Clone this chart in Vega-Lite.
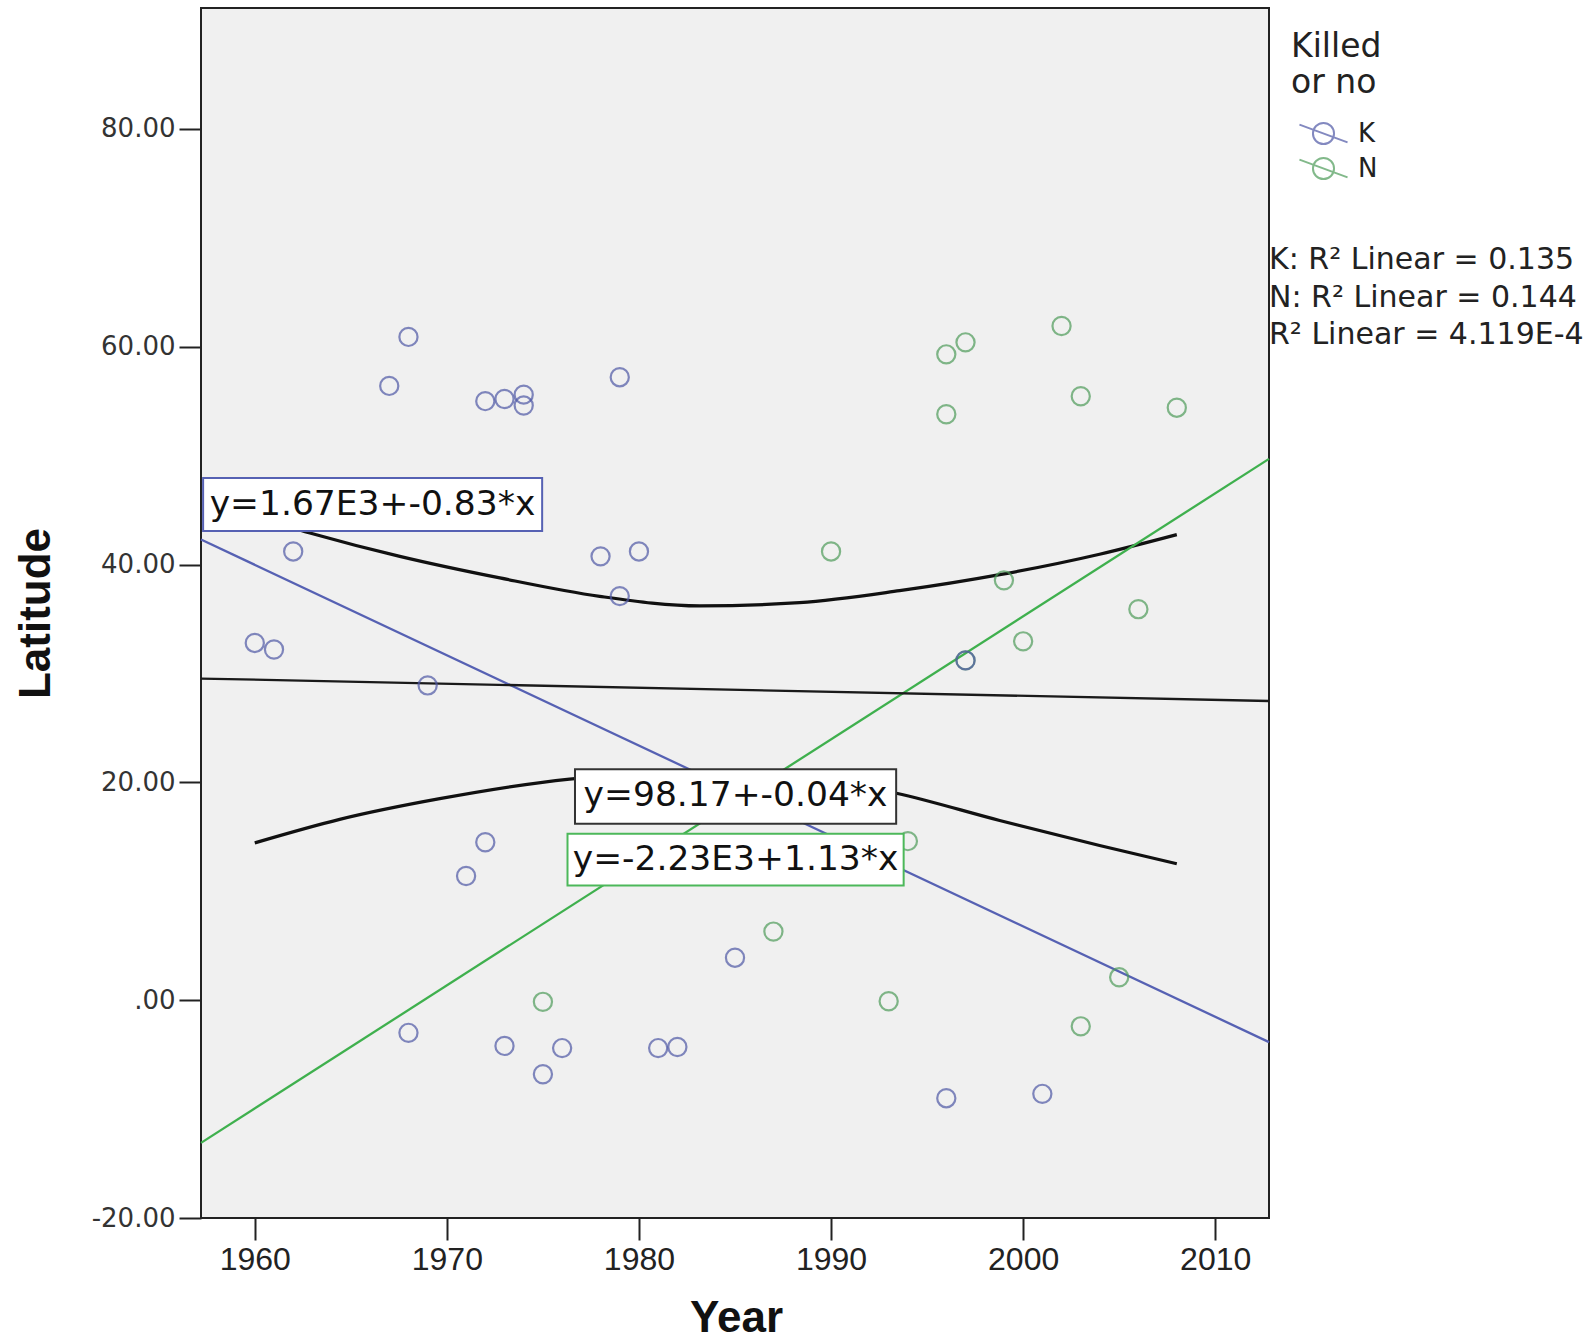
{
"$schema":"https://vega.github.io/schema/vega-lite/v6.json",
"width":1068,"height":1210,
"autosize":{"type":"none"},
"padding":{"left":201,"top":8,"right":327,"bottom":123},
"background":"#ffffff",
"config":{
 "view":{"fill":"#f0f0f0","stroke":"#222222","strokeWidth":2},
 "axis":{"grid":false,"domain":false,"ticks":true,"tickColor":"#222222","tickWidth":2,"tickSize":22,"labelFlush":false}
},
"datasets":{
 "points":[
  {"Year":1996,"Latitude":59.3,"Killed":"N"},
  {"Year":1997,"Latitude":60.4,"Killed":"N"},
  {"Year":1996,"Latitude":53.8,"Killed":"N"},
  {"Year":2002,"Latitude":61.9,"Killed":"N"},
  {"Year":2003,"Latitude":55.45,"Killed":"N"},
  {"Year":2008,"Latitude":54.4,"Killed":"N"},
  {"Year":1990,"Latitude":41.2,"Killed":"N"},
  {"Year":1999,"Latitude":38.55,"Killed":"N"},
  {"Year":2006,"Latitude":35.9,"Killed":"N"},
  {"Year":2000,"Latitude":32.95,"Killed":"N"},
  {"Year":1997,"Latitude":31.2,"Killed":"N"},
  {"Year":1994,"Latitude":14.6,"Killed":"N"},
  {"Year":1987,"Latitude":6.3,"Killed":"N"},
  {"Year":1975,"Latitude":-0.15,"Killed":"N"},
  {"Year":1993,"Latitude":-0.1,"Killed":"N"},
  {"Year":2005,"Latitude":2.1,"Killed":"N"},
  {"Year":2003,"Latitude":-2.4,"Killed":"N"},
  {"Year":1960,"Latitude":32.8,"Killed":"K"},
  {"Year":1961,"Latitude":32.2,"Killed":"K"},
  {"Year":1962,"Latitude":41.2,"Killed":"K"},
  {"Year":1967,"Latitude":56.4,"Killed":"K"},
  {"Year":1968,"Latitude":60.9,"Killed":"K"},
  {"Year":1969,"Latitude":28.9,"Killed":"K"},
  {"Year":1972,"Latitude":55.0,"Killed":"K"},
  {"Year":1973,"Latitude":55.2,"Killed":"K"},
  {"Year":1974,"Latitude":55.6,"Killed":"K"},
  {"Year":1974,"Latitude":54.6,"Killed":"K"},
  {"Year":1979,"Latitude":57.2,"Killed":"K"},
  {"Year":1978,"Latitude":40.75,"Killed":"K"},
  {"Year":1980,"Latitude":41.2,"Killed":"K"},
  {"Year":1979,"Latitude":37.1,"Killed":"K"},
  {"Year":1997,"Latitude":31.2,"Killed":"K"},
  {"Year":1971,"Latitude":11.4,"Killed":"K"},
  {"Year":1972,"Latitude":14.5,"Killed":"K"},
  {"Year":1968,"Latitude":-3.0,"Killed":"K"},
  {"Year":1973,"Latitude":-4.2,"Killed":"K"},
  {"Year":1975,"Latitude":-6.8,"Killed":"K"},
  {"Year":1976,"Latitude":-4.4,"Killed":"K"},
  {"Year":1981,"Latitude":-4.4,"Killed":"K"},
  {"Year":1982,"Latitude":-4.3,"Killed":"K"},
  {"Year":1985,"Latitude":3.9,"Killed":"K"},
  {"Year":1996,"Latitude":-9.0,"Killed":"K"},
  {"Year":2001,"Latitude":-8.6,"Killed":"K"}
 ],
 "fits":[
  {"Year":1957.2,"Latitude":42.3,"Series":"K"},
  {"Year":2012.8,"Latitude":-3.85,"Series":"K"},
  {"Year":1957.2,"Latitude":-13.1,"Series":"N"},
  {"Year":2012.8,"Latitude":49.7,"Series":"N"},
  {"Year":1957.2,"Latitude":29.53,"Series":"Total"},
  {"Year":2012.8,"Latitude":27.47,"Series":"Total"}
 ],
 "ci":[
  {"Year":1960,"Latitude":44.4,"Bound":"upper"},
  {"Year":1962.87,"Latitude":42.9,"Bound":"upper"},
  {"Year":1967.55,"Latitude":40.75,"Bound":"upper"},
  {"Year":1972.76,"Latitude":38.77,"Bound":"upper"},
  {"Year":1977.96,"Latitude":37.08,"Bound":"upper"},
  {"Year":1983.17,"Latitude":36.2,"Bound":"upper"},
  {"Year":1988.36,"Latitude":36.5,"Bound":"upper"},
  {"Year":1993.57,"Latitude":37.6,"Bound":"upper"},
  {"Year":1998.78,"Latitude":39.07,"Bound":"upper"},
  {"Year":2003.98,"Latitude":40.95,"Bound":"upper"},
  {"Year":2008,"Latitude":42.75,"Bound":"upper"},
  {"Year":1960,"Latitude":14.44,"Bound":"lower"},
  {"Year":1964.42,"Latitude":16.6,"Bound":"lower"},
  {"Year":1969.63,"Latitude":18.5,"Bound":"lower"},
  {"Year":1976.39,"Latitude":20.3,"Bound":"lower"},
  {"Year":1980,"Latitude":20.8,"Bound":"lower"},
  {"Year":1984,"Latitude":21.0,"Bound":"lower"},
  {"Year":1988,"Latitude":20.7,"Bound":"lower"},
  {"Year":1993.4,"Latitude":19.0,"Bound":"lower"},
  {"Year":1998.78,"Latitude":16.5,"Bound":"lower"},
  {"Year":2003.98,"Latitude":14.2,"Bound":"lower"},
  {"Year":2008,"Latitude":12.53,"Bound":"lower"}
 ]
},
"layer":[
 {"data":{"name":"ci"},
  "mark":{"type":"line","color":"#111111","strokeWidth":3.2,"interpolate":"monotone"},
  "encoding":{
   "x":{"field":"Year","type":"quantitative","scale":{"domain":[1957.2,2012.8],"nice":false,"zero":false},
        "axis":{"title":"Year","values":[1960,1970,1980,1990,2000,2010],"format":"d","labelFont":"Liberation Sans","labelFontSize":32,"labelColor":"#222222","labelPadding":4,"titleFont":"Liberation Sans","titleFontSize":44,"titleFontWeight":"bold","titleColor":"#111111","titleX":535,"titleY":100,"titleBaseline":"middle","titleAlign":"center"}},
   "y":{"field":"Latitude","type":"quantitative","scale":{"domain":[-20,91.1],"nice":false,"zero":false},
        "axis":{"title":"Latitude","values":[-20,0,20,40,60,80],"labelExpr":"datum.value == 0 ? '.00' : (datum.value < 0 ? '-' + format(-datum.value, '.2f') : format(datum.value, '.2f'))","labelFont":"DejaVu Sans","labelFontSize":26,"labelColor":"#333333","labelPadding":4,"titleFont":"Liberation Sans","titleFontSize":44,"titleFontWeight":"bold","titleColor":"#111111","titleAngle":-90,"titleX":-165,"titleY":605,"titleBaseline":"middle","titleAlign":"center"}},
   "detail":{"field":"Bound","type":"nominal"}
  }},
 {"data":{"name":"fits"},
  "mark":{"type":"line","strokeWidth":2.3},
  "encoding":{
   "x":{"field":"Year","type":"quantitative"},
   "y":{"field":"Latitude","type":"quantitative"},
   "stroke":{"field":"Series","type":"nominal","scale":{"domain":["K","N","Total"],"range":["#5661b3","#3fb04e","#1a1a1a"]},"legend":null},
   "detail":{"field":"Series","type":"nominal"}
  }},
 {"data":{"name":"points"},
  "mark":{"type":"point","shape":"circle","filled":false,"size":330,"strokeWidth":2.2},
  "encoding":{
   "x":{"field":"Year","type":"quantitative"},
   "y":{"field":"Latitude","type":"quantitative"},
   "color":{"field":"Killed","type":"nominal","scale":{"domain":["K","N"],"range":["#4f58a6","#4e9c5a"]},
     "legend":{"title":["Killed","or no"],"orient":"none","legendX":1090,"legendY":23,"padding":0,
       "titleFont":"DejaVu Sans","titleFontSize":33,"titleFontWeight":"normal","titleColor":"#222222","titleLineHeight":36,"titlePadding":14,
       "labelFont":"DejaVu Sans","labelFontSize":26,"labelColor":"#222222","labelOffset":15,
       "symbolType":"M -0.57 0 A 0.57 0.57 0 1 1 0.57 0 A 0.57 0.57 0 1 1 -0.57 0 Z M -1.3 -0.48 L 1.3 0.48",
       "symbolSize":1369,"symbolStrokeWidth":2,"symbolFillColor":"transparent","symbolOffset":13,"rowPadding":0}}
  }},
 {"data":{"values":[{}]},
  "mark":{"type":"rect","fill":"#ffffff","stroke":"#5661b3","strokeWidth":2},
  "encoding":{"x":{"datum":1957.31},"x2":{"datum":1974.96},"y":{"datum":47.94},"y2":{"datum":43.09}}},
 {"data":{"values":[{}]},
  "mark":{"type":"rect","fill":"#ffffff","stroke":"#333333","strokeWidth":2},
  "encoding":{"x":{"datum":1976.67},"x2":{"datum":1993.39},"y":{"datum":21.21},"y2":{"datum":16.21}}},
 {"data":{"values":[{}]},
  "mark":{"type":"rect","fill":"#ffffff","stroke":"#4cb85a","strokeWidth":2},
  "encoding":{"x":{"datum":1976.28},"x2":{"datum":1993.78},"y":{"datum":15.29},"y2":{"datum":10.52}}},
 {"data":{"values":[{}]},
  "mark":{"type":"text","text":"y=1.67E3+-0.83*x","font":"DejaVu Sans","fontSize":34.5,"color":"#111111","align":"center","baseline":"middle"},
  "encoding":{"x":{"datum":1966.13},"y":{"datum":45.5}}},
 {"data":{"values":[{}]},
  "mark":{"type":"text","text":"y=98.17+-0.04*x","font":"DejaVu Sans","fontSize":34.5,"color":"#111111","align":"center","baseline":"middle"},
  "encoding":{"x":{"datum":1985.03},"y":{"datum":18.71}}},
 {"data":{"values":[{}]},
  "mark":{"type":"text","text":"y=-2.23E3+1.13*x","font":"DejaVu Sans","fontSize":34.5,"color":"#111111","align":"center","baseline":"middle"},
  "encoding":{"x":{"datum":1985.03},"y":{"datum":12.9}}},
 {"data":{"values":[{}]},
  "mark":{"type":"text","text":["K: R² Linear = 0.135","N: R² Linear = 0.144","R² Linear = 4.119E-4"],"font":"DejaVu Sans","fontSize":30,"lineHeight":37.5,"color":"#222222","align":"left","baseline":"top"},
  "encoding":{"x":{"datum":2012.8},"y":{"datum":69.3}}}
]
}
